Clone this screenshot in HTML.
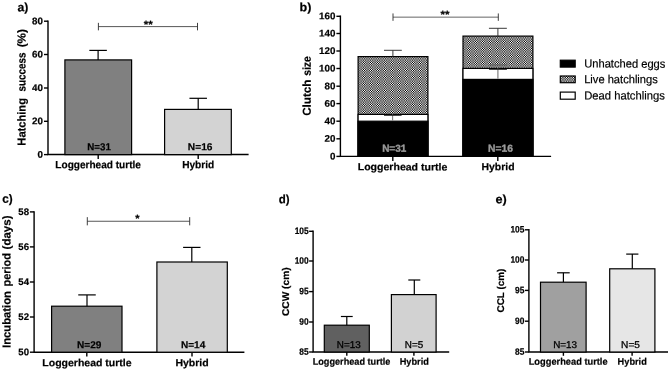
<!DOCTYPE html>
<html><head><meta charset="utf-8"><title>Figure</title>
<style>
html,body{margin:0;padding:0;background:#fff;}
body{width:668px;height:370px;overflow:hidden;}
svg{display:block;font-family:"Liberation Sans",sans-serif;will-change:transform;transform:translateZ(0);}
</style></head><body>
<svg width="668" height="370" viewBox="0 0 668 370">
<rect x="0" y="0" width="668" height="370" fill="#fff"/>
<text x="17.53" y="11.2" font-size="12" font-weight="bold" text-anchor="start" fill="#000" textLength="10.87" lengthAdjust="spacingAndGlyphs" transform="rotate(0.04 17.53 11.2)"  stroke="#000" stroke-width="0.2">a)</text>
<path d="M48.0 20.5 V154.55 H248.6" fill="none" stroke="#000" stroke-width="1.4" stroke-linejoin="miter"/>
<line x1="44.0" y1="21.2" x2="48.0" y2="21.2" stroke="#000" stroke-width="1.4" stroke-linecap="butt"/>
<text x="43.0" y="24.28" font-size="9.6" font-weight="bold" text-anchor="end" fill="#000" textLength="10.89" lengthAdjust="spacingAndGlyphs" transform="rotate(0.04 43.0 24.28)"  stroke="#000" stroke-width="0.2">80</text>
<line x1="44.0" y1="54.5" x2="48.0" y2="54.5" stroke="#000" stroke-width="1.4" stroke-linecap="butt"/>
<text x="43.0" y="57.58" font-size="9.6" font-weight="bold" text-anchor="end" fill="#000" textLength="10.89" lengthAdjust="spacingAndGlyphs" transform="rotate(0.04 43.0 57.58)"  stroke="#000" stroke-width="0.2">60</text>
<line x1="44.0" y1="88.0" x2="48.0" y2="88.0" stroke="#000" stroke-width="1.4" stroke-linecap="butt"/>
<text x="43.0" y="91.08" font-size="9.6" font-weight="bold" text-anchor="end" fill="#000" textLength="10.89" lengthAdjust="spacingAndGlyphs" transform="rotate(0.04 43.0 91.08)"  stroke="#000" stroke-width="0.2">40</text>
<line x1="44.0" y1="121.3" x2="48.0" y2="121.3" stroke="#000" stroke-width="1.4" stroke-linecap="butt"/>
<text x="43.0" y="124.38" font-size="9.6" font-weight="bold" text-anchor="end" fill="#000" textLength="10.89" lengthAdjust="spacingAndGlyphs" transform="rotate(0.04 43.0 124.38)"  stroke="#000" stroke-width="0.2">20</text>
<line x1="44.0" y1="154.6" x2="48.0" y2="154.6" stroke="#000" stroke-width="1.4" stroke-linecap="butt"/>
<text x="43.0" y="157.68" font-size="9.6" font-weight="bold" text-anchor="end" fill="#000" textLength="5.45" lengthAdjust="spacingAndGlyphs" transform="rotate(0.04 43.0 157.68)"  stroke="#000" stroke-width="0.2">0</text>
<line x1="98.2" y1="154.55" x2="98.2" y2="159.05" stroke="#000" stroke-width="1.4" stroke-linecap="butt"/>
<line x1="198.2" y1="154.55" x2="198.2" y2="159.05" stroke="#000" stroke-width="1.4" stroke-linecap="butt"/>
<rect x="64.9" y="59.9" width="66.7" height="94.7" fill="#808080" stroke="#000" stroke-width="1.2"/>
<line x1="98.1" y1="50.4" x2="98.1" y2="59.9" stroke="#000" stroke-width="1.2" stroke-linecap="butt"/>
<line x1="89.35" y1="50.4" x2="106.85" y2="50.4" stroke="#000" stroke-width="1.2" stroke-linecap="butt"/>
<rect x="164.6" y="109.4" width="66.7" height="45.2" fill="#d3d3d3" stroke="#000" stroke-width="1.2"/>
<line x1="198.2" y1="98.3" x2="198.2" y2="109.4" stroke="#000" stroke-width="1.2" stroke-linecap="butt"/>
<line x1="189.45" y1="98.3" x2="206.95" y2="98.3" stroke="#000" stroke-width="1.2" stroke-linecap="butt"/>
<line x1="98.4" y1="26.6" x2="197.5" y2="26.6" stroke="#444" stroke-width="0.9" stroke-linecap="butt"/>
<line x1="98.4" y1="22.85" x2="98.4" y2="30.35" stroke="#2a2a2a" stroke-width="0.9" stroke-linecap="butt"/>
<line x1="197.5" y1="22.85" x2="197.5" y2="30.35" stroke="#2a2a2a" stroke-width="0.9" stroke-linecap="butt"/>
<text x="148.3" y="28.05" font-size="10.5" font-weight="bold" text-anchor="middle" fill="#000" textLength="9.0" lengthAdjust="spacingAndGlyphs" transform="rotate(0.04 148.3 28.05)"  stroke="#000" stroke-width="0.2">**</text>
<text x="55.35" y="168.3" font-size="10.5" font-weight="bold" text-anchor="start" fill="#000" textLength="85.61" lengthAdjust="spacingAndGlyphs" transform="rotate(0.04 55.35 168.3)"  stroke="#000" stroke-width="0.2">Loggerhead turtle</text>
<text x="182.14" y="168.2" font-size="10.5" font-weight="bold" text-anchor="start" fill="#000" textLength="32.14" lengthAdjust="spacingAndGlyphs" transform="rotate(0.04 182.14 168.2)"  stroke="#000" stroke-width="0.2">Hybrid</text>
<text x="87.27" y="150.2" font-size="10.1" font-weight="bold" text-anchor="start" fill="#000" textLength="23.61" lengthAdjust="spacingAndGlyphs" transform="rotate(0.04 87.27 150.2)"  stroke="#000" stroke-width="0.2">N=31</text>
<text x="187.84" y="150.3" font-size="10.1" font-weight="bold" text-anchor="start" fill="#000" textLength="24.66" lengthAdjust="spacingAndGlyphs" transform="rotate(0.04 187.84 150.3)"  stroke="#000" stroke-width="0.2">N=16</text>
<text x="25.4" y="145.62" font-size="11.5" font-weight="bold" text-anchor="start" fill="#000" textLength="47.58" lengthAdjust="spacingAndGlyphs" transform="rotate(-89.96 25.4 145.62)"  stroke="#000" stroke-width="0.2">Hatching</text>
<text x="25.4" y="91.55" font-size="11.5" font-weight="bold" text-anchor="start" fill="#000" textLength="39.17" lengthAdjust="spacingAndGlyphs" transform="rotate(-89.96 25.4 91.55)"  stroke="#000" stroke-width="0.2">success</text>
<text x="25.4" y="47.28" font-size="11.5" font-weight="bold" text-anchor="start" fill="#000" textLength="18.17" lengthAdjust="spacingAndGlyphs" transform="rotate(-89.96 25.4 47.28)"  stroke="#000" stroke-width="0.2">(%)</text>
<defs><pattern id="chk" width="7.0" height="7.0" patternUnits="userSpaceOnUse"><rect width="7.0" height="7.0" fill="#fff"/><path d="M0.0 0.0h1.167v1.167h-1.167zM0.0 2.333h1.167v1.167h-1.167zM0.0 4.667h1.167v1.167h-1.167zM1.167 1.167h1.167v1.167h-1.167zM1.167 3.5h1.167v1.167h-1.167zM1.167 5.833h1.167v1.167h-1.167zM2.333 0.0h1.167v1.167h-1.167zM2.333 2.333h1.167v1.167h-1.167zM2.333 4.667h1.167v1.167h-1.167zM3.5 1.167h1.167v1.167h-1.167zM3.5 3.5h1.167v1.167h-1.167zM3.5 5.833h1.167v1.167h-1.167zM4.667 0.0h1.167v1.167h-1.167zM4.667 2.333h1.167v1.167h-1.167zM4.667 4.667h1.167v1.167h-1.167zM5.833 1.167h1.167v1.167h-1.167zM5.833 3.5h1.167v1.167h-1.167zM5.833 5.833h1.167v1.167h-1.167z" fill="#000"/></pattern></defs>
<text x="299.49" y="11.2" font-size="12" font-weight="bold" text-anchor="start" fill="#000" textLength="11.83" lengthAdjust="spacingAndGlyphs" transform="rotate(0.04 299.49 11.2)"  stroke="#000" stroke-width="0.2">b)</text>
<path d="M340.4 15.600000000000001 V156.4 H551.1" fill="none" stroke="#000" stroke-width="1.4" stroke-linejoin="miter"/>
<line x1="336.4" y1="16.3" x2="340.4" y2="16.3" stroke="#000" stroke-width="1.4" stroke-linecap="butt"/>
<text x="335.4" y="19.38" font-size="9.6" font-weight="bold" text-anchor="end" fill="#000" textLength="16.34" lengthAdjust="spacingAndGlyphs" transform="rotate(0.04 335.4 19.38)"  stroke="#000" stroke-width="0.2">160</text>
<line x1="336.4" y1="33.5" x2="340.4" y2="33.5" stroke="#000" stroke-width="1.4" stroke-linecap="butt"/>
<text x="335.4" y="36.58" font-size="9.6" font-weight="bold" text-anchor="end" fill="#000" textLength="16.34" lengthAdjust="spacingAndGlyphs" transform="rotate(0.04 335.4 36.58)"  stroke="#000" stroke-width="0.2">140</text>
<line x1="336.4" y1="51.0" x2="340.4" y2="51.0" stroke="#000" stroke-width="1.4" stroke-linecap="butt"/>
<text x="335.4" y="54.08" font-size="9.6" font-weight="bold" text-anchor="end" fill="#000" textLength="16.34" lengthAdjust="spacingAndGlyphs" transform="rotate(0.04 335.4 54.08)"  stroke="#000" stroke-width="0.2">120</text>
<line x1="336.4" y1="68.5" x2="340.4" y2="68.5" stroke="#000" stroke-width="1.4" stroke-linecap="butt"/>
<text x="335.4" y="71.58" font-size="9.6" font-weight="bold" text-anchor="end" fill="#000" textLength="16.34" lengthAdjust="spacingAndGlyphs" transform="rotate(0.04 335.4 71.58)"  stroke="#000" stroke-width="0.2">100</text>
<line x1="336.4" y1="86.2" x2="340.4" y2="86.2" stroke="#000" stroke-width="1.4" stroke-linecap="butt"/>
<text x="335.4" y="89.28" font-size="9.6" font-weight="bold" text-anchor="end" fill="#000" textLength="10.89" lengthAdjust="spacingAndGlyphs" transform="rotate(0.04 335.4 89.28)"  stroke="#000" stroke-width="0.2">80</text>
<line x1="336.4" y1="103.6" x2="340.4" y2="103.6" stroke="#000" stroke-width="1.4" stroke-linecap="butt"/>
<text x="335.4" y="106.68" font-size="9.6" font-weight="bold" text-anchor="end" fill="#000" textLength="10.89" lengthAdjust="spacingAndGlyphs" transform="rotate(0.04 335.4 106.68)"  stroke="#000" stroke-width="0.2">60</text>
<line x1="336.4" y1="121.2" x2="340.4" y2="121.2" stroke="#000" stroke-width="1.4" stroke-linecap="butt"/>
<text x="335.4" y="124.28" font-size="9.6" font-weight="bold" text-anchor="end" fill="#000" textLength="10.89" lengthAdjust="spacingAndGlyphs" transform="rotate(0.04 335.4 124.28)"  stroke="#000" stroke-width="0.2">40</text>
<line x1="336.4" y1="138.8" x2="340.4" y2="138.8" stroke="#000" stroke-width="1.4" stroke-linecap="butt"/>
<text x="335.4" y="141.88" font-size="9.6" font-weight="bold" text-anchor="end" fill="#000" textLength="10.89" lengthAdjust="spacingAndGlyphs" transform="rotate(0.04 335.4 141.88)"  stroke="#000" stroke-width="0.2">20</text>
<line x1="336.4" y1="156.4" x2="340.4" y2="156.4" stroke="#000" stroke-width="1.4" stroke-linecap="butt"/>
<text x="335.4" y="159.48" font-size="9.6" font-weight="bold" text-anchor="end" fill="#000" textLength="5.45" lengthAdjust="spacingAndGlyphs" transform="rotate(0.04 335.4 159.48)"  stroke="#000" stroke-width="0.2">0</text>
<line x1="392.8" y1="156.4" x2="392.8" y2="160.9" stroke="#000" stroke-width="1.4" stroke-linecap="butt"/>
<line x1="497.8" y1="156.4" x2="497.8" y2="160.9" stroke="#000" stroke-width="1.4" stroke-linecap="butt"/>
<rect x="358.1" y="56.6" width="69.8" height="99.8" fill="url(#chk)" stroke="#000" stroke-width="1.2"/>
<rect x="358.1" y="114.4" width="69.8" height="42.0" fill="#fff" stroke="#000" stroke-width="1.2"/>
<rect x="358.1" y="121.2" width="69.8" height="35.2" fill="#000" stroke="#000" stroke-width="1.2"/>
<line x1="392.9" y1="50.3" x2="392.9" y2="56.6" stroke="#2e2e2e" stroke-width="0.95" stroke-linecap="butt"/>
<line x1="384.0" y1="50.3" x2="401.79999999999995" y2="50.3" stroke="#2e2e2e" stroke-width="0.95" stroke-linecap="butt"/>
<line x1="392.6" y1="114.4" x2="392.6" y2="120.7" stroke="#808080" stroke-width="1.1" stroke-linecap="butt"/>
<line x1="384.0" y1="115.4" x2="401.6" y2="115.4" stroke="#222" stroke-width="0.9" stroke-linecap="butt"/>
<rect x="463.0" y="36.1" width="69.9" height="120.3" fill="url(#chk)" stroke="#000" stroke-width="1.2"/>
<rect x="463.0" y="68.4" width="69.9" height="88.0" fill="#fff" stroke="#000" stroke-width="1.2"/>
<rect x="463.0" y="79.4" width="69.9" height="77.0" fill="#000" stroke="#000" stroke-width="1.2"/>
<line x1="497.9" y1="28.3" x2="497.9" y2="36.0" stroke="#2e2e2e" stroke-width="0.95" stroke-linecap="butt"/>
<line x1="488.95" y1="28.3" x2="506.84999999999997" y2="28.3" stroke="#2e2e2e" stroke-width="0.95" stroke-linecap="butt"/>
<line x1="497.9" y1="68.4" x2="497.9" y2="78.7" stroke="#808080" stroke-width="1.2" stroke-linecap="butt"/>
<line x1="489.0" y1="65.0" x2="506.9" y2="65.0" stroke="#555" stroke-width="0.9" stroke-linecap="butt"/>
<line x1="489.0" y1="69.4" x2="506.9" y2="69.4" stroke="#222" stroke-width="0.9" stroke-linecap="butt"/>
<line x1="393.0" y1="17.15" x2="498.3" y2="17.15" stroke="#555" stroke-width="0.9" stroke-linecap="butt"/>
<line x1="393.0" y1="13.45" x2="393.0" y2="20.849999999999998" stroke="#2a2a2a" stroke-width="0.9" stroke-linecap="butt"/>
<line x1="498.3" y1="13.45" x2="498.3" y2="20.849999999999998" stroke="#2a2a2a" stroke-width="0.9" stroke-linecap="butt"/>
<text x="445.1" y="18.05" font-size="10.5" font-weight="bold" text-anchor="middle" fill="#000" textLength="9.0" lengthAdjust="spacingAndGlyphs" transform="rotate(0.04 445.1 18.05)"  stroke="#000" stroke-width="0.2">**</text>
<text x="357.71" y="170.35" font-size="10.3" font-weight="bold" text-anchor="start" fill="#000" textLength="89.66" lengthAdjust="spacingAndGlyphs" transform="rotate(0.04 357.71 170.35)"  stroke="#000" stroke-width="0.2">Loggerhead turtle</text>
<text x="481.52" y="170.35" font-size="10.3" font-weight="bold" text-anchor="start" fill="#000" textLength="33.08" lengthAdjust="spacingAndGlyphs" transform="rotate(0.04 481.52 170.35)"  stroke="#000" stroke-width="0.2">Hybrid</text>
<text x="382.15" y="151.8" font-size="10.2" font-weight="bold" text-anchor="start" fill="#9a9a9a" textLength="24.13" lengthAdjust="spacingAndGlyphs" transform="rotate(0.04 382.15 151.8)" stroke="#9a9a9a" stroke-width="0.35">N=31</text>
<text x="488.13" y="151.8" font-size="10.2" font-weight="bold" text-anchor="start" fill="#9a9a9a" textLength="24.86" lengthAdjust="spacingAndGlyphs" transform="rotate(0.04 488.13 151.8)" stroke="#9a9a9a" stroke-width="0.35">N=16</text>
<text x="310.8" y="115.77" font-size="11.5" font-weight="bold" text-anchor="start" fill="#000" textLength="36.17" lengthAdjust="spacingAndGlyphs" transform="rotate(-89.96 310.8 115.77)"  stroke="#000" stroke-width="0.2">Clutch</text>
<text x="310.8" y="75.86" font-size="11.5" font-weight="bold" text-anchor="start" fill="#000" textLength="19.63" lengthAdjust="spacingAndGlyphs" transform="rotate(-89.96 310.8 75.86)"  stroke="#000" stroke-width="0.2">size</text>
<rect x="560.3" y="60.2" width="14.9" height="6.9" fill="#000" stroke="#000" stroke-width="1.2"/>
<rect x="560.3" y="76.0" width="14.9" height="6.7" fill="url(#chk)" stroke="#000" stroke-width="1.2"/>
<rect x="560.3" y="92.1" width="14.9" height="7.1" fill="#fff" stroke="#000" stroke-width="1.2"/>
<text x="584.2" y="67.6" font-size="11.7" font-weight="normal" text-anchor="start" fill="#000" textLength="81.2" lengthAdjust="spacingAndGlyphs" transform="rotate(0.04 584.2 67.6)" stroke="#000" stroke-width="0.2">Unhatched eggs</text>
<text x="584.2" y="83.2" font-size="11.7" font-weight="normal" text-anchor="start" fill="#000" textLength="73.6" lengthAdjust="spacingAndGlyphs" transform="rotate(0.04 584.2 83.2)" stroke="#000" stroke-width="0.2">Live hatchlings</text>
<text x="584.2" y="99.5" font-size="11.7" font-weight="normal" text-anchor="start" fill="#000" textLength="80.6" lengthAdjust="spacingAndGlyphs" transform="rotate(0.04 584.2 99.5)" stroke="#000" stroke-width="0.2">Dead hatchlings</text>
<text x="2.33" y="202.8" font-size="12" font-weight="bold" text-anchor="start" fill="#000" textLength="10.45" lengthAdjust="spacingAndGlyphs" transform="rotate(0.04 2.33 202.8)"  stroke="#000" stroke-width="0.2">c)</text>
<path d="M34.1 211.20000000000002 V352.2 H244.4" fill="none" stroke="#000" stroke-width="1.4" stroke-linejoin="miter"/>
<line x1="29.900000000000002" y1="211.9" x2="34.1" y2="211.9" stroke="#000" stroke-width="1.4" stroke-linecap="butt"/>
<text x="29.0" y="214.98" font-size="9.6" font-weight="bold" text-anchor="end" fill="#000" textLength="10.68" lengthAdjust="spacingAndGlyphs" transform="rotate(0.04 29.0 214.98)"  stroke="#000" stroke-width="0.2">58</text>
<line x1="29.900000000000002" y1="246.9" x2="34.1" y2="246.9" stroke="#000" stroke-width="1.4" stroke-linecap="butt"/>
<text x="29.0" y="249.98" font-size="9.6" font-weight="bold" text-anchor="end" fill="#000" textLength="10.68" lengthAdjust="spacingAndGlyphs" transform="rotate(0.04 29.0 249.98)"  stroke="#000" stroke-width="0.2">56</text>
<line x1="29.900000000000002" y1="282.0" x2="34.1" y2="282.0" stroke="#000" stroke-width="1.4" stroke-linecap="butt"/>
<text x="29.0" y="285.08" font-size="9.6" font-weight="bold" text-anchor="end" fill="#000" textLength="10.68" lengthAdjust="spacingAndGlyphs" transform="rotate(0.04 29.0 285.08)"  stroke="#000" stroke-width="0.2">54</text>
<line x1="29.900000000000002" y1="317.0" x2="34.1" y2="317.0" stroke="#000" stroke-width="1.4" stroke-linecap="butt"/>
<text x="29.0" y="320.08" font-size="9.6" font-weight="bold" text-anchor="end" fill="#000" textLength="10.68" lengthAdjust="spacingAndGlyphs" transform="rotate(0.04 29.0 320.08)"  stroke="#000" stroke-width="0.2">52</text>
<line x1="29.900000000000002" y1="352.2" x2="34.1" y2="352.2" stroke="#000" stroke-width="1.4" stroke-linecap="butt"/>
<text x="29.0" y="355.28" font-size="9.6" font-weight="bold" text-anchor="end" fill="#000" textLength="10.68" lengthAdjust="spacingAndGlyphs" transform="rotate(0.04 29.0 355.28)"  stroke="#000" stroke-width="0.2">50</text>
<line x1="86.8" y1="352.2" x2="86.8" y2="356.5" stroke="#000" stroke-width="1.4" stroke-linecap="butt"/>
<line x1="192.0" y1="352.2" x2="192.0" y2="356.5" stroke="#000" stroke-width="1.4" stroke-linecap="butt"/>
<rect x="51.6" y="306.2" width="70.4" height="46.0" fill="#808080" stroke="#000" stroke-width="1.2"/>
<line x1="87.0" y1="294.9" x2="87.0" y2="306.2" stroke="#000" stroke-width="1.2" stroke-linecap="butt"/>
<line x1="78.25" y1="294.9" x2="95.75" y2="294.9" stroke="#000" stroke-width="1.2" stroke-linecap="butt"/>
<rect x="156.9" y="262.0" width="70.4" height="90.2" fill="#d3d3d3" stroke="#000" stroke-width="1.2"/>
<line x1="191.8" y1="247.4" x2="191.8" y2="262.0" stroke="#000" stroke-width="1.2" stroke-linecap="butt"/>
<line x1="183.10000000000002" y1="247.4" x2="200.5" y2="247.4" stroke="#000" stroke-width="1.2" stroke-linecap="butt"/>
<line x1="87.3" y1="221.25" x2="189.7" y2="221.25" stroke="#444" stroke-width="0.9" stroke-linecap="butt"/>
<line x1="87.3" y1="217.15" x2="87.3" y2="225.35" stroke="#2a2a2a" stroke-width="0.9" stroke-linecap="butt"/>
<line x1="189.7" y1="217.15" x2="189.7" y2="225.35" stroke="#2a2a2a" stroke-width="0.9" stroke-linecap="butt"/>
<text x="137.4" y="222.05" font-size="10.5" font-weight="bold" text-anchor="middle" fill="#000" textLength="4.29" lengthAdjust="spacingAndGlyphs" transform="rotate(0.04 137.4 222.05)"  stroke="#000" stroke-width="0.2">*</text>
<text x="42.32" y="366.2" font-size="10.3" font-weight="bold" text-anchor="start" fill="#000" textLength="89.26" lengthAdjust="spacingAndGlyphs" transform="rotate(0.04 42.32 366.2)"  stroke="#000" stroke-width="0.2">Loggerhead turtle</text>
<text x="175.42" y="366.2" font-size="10.3" font-weight="bold" text-anchor="start" fill="#000" textLength="33.29" lengthAdjust="spacingAndGlyphs" transform="rotate(0.04 175.42 366.2)"  stroke="#000" stroke-width="0.2">Hybrid</text>
<text x="77.05" y="348.2" font-size="10.1" font-weight="bold" text-anchor="start" fill="#000" textLength="24.34" lengthAdjust="spacingAndGlyphs" transform="rotate(0.04 77.05 348.2)"  stroke="#000" stroke-width="0.2">N=29</text>
<text x="180.95" y="348.2" font-size="10.1" font-weight="bold" text-anchor="start" fill="#000" textLength="24.34" lengthAdjust="spacingAndGlyphs" transform="rotate(0.04 180.95 348.2)"  stroke="#000" stroke-width="0.2">N=14</text>
<text x="10.6" y="347.93" font-size="11.5" font-weight="bold" text-anchor="start" fill="#000" textLength="56.91" lengthAdjust="spacingAndGlyphs" transform="rotate(-89.96 10.6 347.93)"  stroke="#000" stroke-width="0.2">Incubation</text>
<text x="10.6" y="286.41" font-size="11.5" font-weight="bold" text-anchor="start" fill="#000" textLength="33.22" lengthAdjust="spacingAndGlyphs" transform="rotate(-89.96 10.6 286.41)"  stroke="#000" stroke-width="0.2">period</text>
<text x="10.6" y="249.37" font-size="11.5" font-weight="bold" text-anchor="start" fill="#000" textLength="33.85" lengthAdjust="spacingAndGlyphs" transform="rotate(-89.96 10.6 249.37)"  stroke="#000" stroke-width="0.2">(days)</text>
<text x="278.64" y="203.3" font-size="12" font-weight="bold" text-anchor="start" fill="#000" textLength="10.82" lengthAdjust="spacingAndGlyphs" transform="rotate(0.04 278.64 203.3)"  stroke="#000" stroke-width="0.2">d)</text>
<path d="M313.1 230.60000000000002 V352.0 H449.2" fill="none" stroke="#000" stroke-width="1.4" stroke-linejoin="miter"/>
<line x1="309.1" y1="231.3" x2="313.1" y2="231.3" stroke="#000" stroke-width="1.4" stroke-linecap="butt"/>
<text x="308.6" y="234.07" font-size="9.3" font-weight="bold" text-anchor="end" fill="#000" textLength="13.97" lengthAdjust="spacingAndGlyphs" transform="rotate(0.04 308.6 234.07)"  stroke="#000" stroke-width="0.2">105</text>
<line x1="309.1" y1="261.0" x2="313.1" y2="261.0" stroke="#000" stroke-width="1.4" stroke-linecap="butt"/>
<text x="308.6" y="263.77" font-size="9.3" font-weight="bold" text-anchor="end" fill="#000" textLength="13.97" lengthAdjust="spacingAndGlyphs" transform="rotate(0.04 308.6 263.77)"  stroke="#000" stroke-width="0.2">100</text>
<line x1="309.1" y1="291.6" x2="313.1" y2="291.6" stroke="#000" stroke-width="1.4" stroke-linecap="butt"/>
<text x="308.6" y="294.37" font-size="9.3" font-weight="bold" text-anchor="end" fill="#000" textLength="9.31" lengthAdjust="spacingAndGlyphs" transform="rotate(0.04 308.6 294.37)"  stroke="#000" stroke-width="0.2">95</text>
<line x1="309.1" y1="322.0" x2="313.1" y2="322.0" stroke="#000" stroke-width="1.4" stroke-linecap="butt"/>
<text x="308.6" y="324.77" font-size="9.3" font-weight="bold" text-anchor="end" fill="#000" textLength="9.31" lengthAdjust="spacingAndGlyphs" transform="rotate(0.04 308.6 324.77)"  stroke="#000" stroke-width="0.2">90</text>
<line x1="309.1" y1="352.0" x2="313.1" y2="352.0" stroke="#000" stroke-width="1.4" stroke-linecap="butt"/>
<text x="308.6" y="354.77" font-size="9.3" font-weight="bold" text-anchor="end" fill="#000" textLength="9.31" lengthAdjust="spacingAndGlyphs" transform="rotate(0.04 308.6 354.77)"  stroke="#000" stroke-width="0.2">85</text>
<line x1="346.8" y1="352.0" x2="346.8" y2="355.8" stroke="#000" stroke-width="1.4" stroke-linecap="butt"/>
<line x1="413.9" y1="352.0" x2="413.9" y2="355.8" stroke="#000" stroke-width="1.4" stroke-linecap="butt"/>
<rect x="324.3" y="325.2" width="45.0" height="26.8" fill="#606060" stroke="#000" stroke-width="1.2"/>
<line x1="346.8" y1="316.5" x2="346.8" y2="325.2" stroke="#000" stroke-width="1.2" stroke-linecap="butt"/>
<line x1="340.90000000000003" y1="316.5" x2="352.7" y2="316.5" stroke="#000" stroke-width="1.2" stroke-linecap="butt"/>
<rect x="391.4" y="294.6" width="44.7" height="57.4" fill="#d2d2d2" stroke="#000" stroke-width="1.2"/>
<line x1="414.3" y1="280.0" x2="414.3" y2="294.6" stroke="#000" stroke-width="1.2" stroke-linecap="butt"/>
<line x1="408.3" y1="280.0" x2="420.3" y2="280.0" stroke="#000" stroke-width="1.2" stroke-linecap="butt"/>
<text x="312.71" y="364.7" font-size="9.6" font-weight="bold" text-anchor="start" fill="#000" textLength="77.72" lengthAdjust="spacingAndGlyphs" transform="rotate(0.04 312.71 364.7)"  stroke="#000" stroke-width="0.2">Loggerhead turtle</text>
<text x="399.7" y="364.7" font-size="9.5" font-weight="bold" text-anchor="start" fill="#000" textLength="29.22" lengthAdjust="spacingAndGlyphs" transform="rotate(0.04 399.7 364.7)"  stroke="#000" stroke-width="0.2">Hybrid</text>
<text x="336.81" y="348.05" font-size="9.8" font-weight="normal" text-anchor="start" fill="#000" textLength="23.82" lengthAdjust="spacingAndGlyphs" transform="rotate(0.04 336.81 348.05)" stroke="#000" stroke-width="0.3">N=13</text>
<text x="404.81" y="348.05" font-size="9.8" font-weight="normal" text-anchor="start" fill="#000" textLength="18.41" lengthAdjust="spacingAndGlyphs" transform="rotate(0.04 404.81 348.05)" stroke="#000" stroke-width="0.3">N=5</text>
<text x="289.0" y="316.0" font-size="9.8" font-weight="bold" text-anchor="start" fill="#000" textLength="48.6" lengthAdjust="spacingAndGlyphs" transform="rotate(-89.96 289.0 316.0)"  stroke="#000" stroke-width="0.2">CCW (cm)</text>
<text x="495.5" y="203.2" font-size="12" font-weight="bold" text-anchor="start" fill="#000" textLength="11.23" lengthAdjust="spacingAndGlyphs" transform="rotate(0.04 495.5 203.2)"  stroke="#000" stroke-width="0.2">e)</text>
<path d="M528.9 229.10000000000002 V352.0 H668.5" fill="none" stroke="#000" stroke-width="1.4" stroke-linejoin="miter"/>
<line x1="524.9" y1="229.8" x2="528.9" y2="229.8" stroke="#000" stroke-width="1.4" stroke-linecap="butt"/>
<text x="524.4" y="232.57" font-size="9.3" font-weight="bold" text-anchor="end" fill="#000" textLength="13.97" lengthAdjust="spacingAndGlyphs" transform="rotate(0.04 524.4 232.57)"  stroke="#000" stroke-width="0.2">105</text>
<line x1="524.9" y1="260.0" x2="528.9" y2="260.0" stroke="#000" stroke-width="1.4" stroke-linecap="butt"/>
<text x="524.4" y="262.77" font-size="9.3" font-weight="bold" text-anchor="end" fill="#000" textLength="13.97" lengthAdjust="spacingAndGlyphs" transform="rotate(0.04 524.4 262.77)"  stroke="#000" stroke-width="0.2">100</text>
<line x1="524.9" y1="290.4" x2="528.9" y2="290.4" stroke="#000" stroke-width="1.4" stroke-linecap="butt"/>
<text x="524.4" y="293.17" font-size="9.3" font-weight="bold" text-anchor="end" fill="#000" textLength="9.31" lengthAdjust="spacingAndGlyphs" transform="rotate(0.04 524.4 293.17)"  stroke="#000" stroke-width="0.2">95</text>
<line x1="524.9" y1="321.2" x2="528.9" y2="321.2" stroke="#000" stroke-width="1.4" stroke-linecap="butt"/>
<text x="524.4" y="323.97" font-size="9.3" font-weight="bold" text-anchor="end" fill="#000" textLength="9.31" lengthAdjust="spacingAndGlyphs" transform="rotate(0.04 524.4 323.97)"  stroke="#000" stroke-width="0.2">90</text>
<line x1="524.9" y1="352.0" x2="528.9" y2="352.0" stroke="#000" stroke-width="1.4" stroke-linecap="butt"/>
<text x="524.4" y="354.77" font-size="9.3" font-weight="bold" text-anchor="end" fill="#000" textLength="9.31" lengthAdjust="spacingAndGlyphs" transform="rotate(0.04 524.4 354.77)"  stroke="#000" stroke-width="0.2">85</text>
<line x1="563.4" y1="352.0" x2="563.4" y2="355.8" stroke="#000" stroke-width="1.4" stroke-linecap="butt"/>
<line x1="632.1" y1="352.0" x2="632.1" y2="355.8" stroke="#000" stroke-width="1.4" stroke-linecap="butt"/>
<rect x="540.5" y="282.2" width="45.6" height="69.8" fill="#a0a0a0" stroke="#000" stroke-width="1.2"/>
<line x1="563.4" y1="272.8" x2="563.4" y2="282.0" stroke="#000" stroke-width="1.2" stroke-linecap="butt"/>
<line x1="557.1" y1="272.8" x2="569.6999999999999" y2="272.8" stroke="#000" stroke-width="1.2" stroke-linecap="butt"/>
<rect x="609.7" y="268.8" width="45.2" height="83.2" fill="#e6e6e6" stroke="#000" stroke-width="1.2"/>
<line x1="632.3" y1="254.1" x2="632.3" y2="268.8" stroke="#000" stroke-width="1.2" stroke-linecap="butt"/>
<line x1="626.1999999999999" y1="254.1" x2="638.4" y2="254.1" stroke="#000" stroke-width="1.2" stroke-linecap="butt"/>
<text x="528.7" y="364.7" font-size="9.6" font-weight="bold" text-anchor="start" fill="#000" textLength="78.94" lengthAdjust="spacingAndGlyphs" transform="rotate(0.04 528.7 364.7)"  stroke="#000" stroke-width="0.2">Loggerhead turtle</text>
<text x="617.6" y="364.7" font-size="9.5" font-weight="bold" text-anchor="start" fill="#000" textLength="29.22" lengthAdjust="spacingAndGlyphs" transform="rotate(0.04 617.6 364.7)"  stroke="#000" stroke-width="0.2">Hybrid</text>
<text x="553.21" y="348.05" font-size="9.8" font-weight="normal" text-anchor="start" fill="#000" textLength="23.82" lengthAdjust="spacingAndGlyphs" transform="rotate(0.04 553.21 348.05)" stroke="#000" stroke-width="0.3">N=13</text>
<text x="621.09" y="348.05" font-size="9.8" font-weight="normal" text-anchor="start" fill="#000" textLength="18.84" lengthAdjust="spacingAndGlyphs" transform="rotate(0.04 621.09 348.05)" stroke="#000" stroke-width="0.3">N=5</text>
<text x="504.0" y="312.5" font-size="9.8" font-weight="bold" text-anchor="start" fill="#000" textLength="43.8" lengthAdjust="spacingAndGlyphs" transform="rotate(-89.96 504.0 312.5)"  stroke="#000" stroke-width="0.2">CCL (cm)</text>
</svg>
</body></html>
